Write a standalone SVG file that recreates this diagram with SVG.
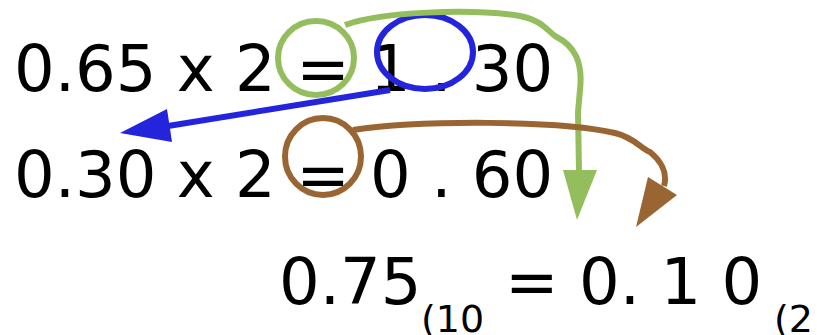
<svg xmlns="http://www.w3.org/2000/svg" width="817" height="335" viewBox="0 0 817 335">
<style>
  .t { font-family: "DejaVu Sans", "Liberation Sans", sans-serif; font-size: 64px; fill: #000; }
  .s { font-family: "DejaVu Sans", "Liberation Sans", sans-serif; font-size: 38px; fill: #000; }
  .ln { fill: none; stroke-width: 6; stroke-linecap: butt; stroke-linejoin: round; }
  .blue { stroke: #2424dc; }
  .green { stroke: #94be5e; }
  .brown { stroke: #996633; }
</style>
<rect width="817" height="335" fill="#fff"/>
<g id="row1"><text class="t" x="14" y="91">0.65 x 2 = 1 . 30</text></g>
<g id="row2"><text class="t" x="14" y="197">0.30 x 2 = 0 . 60</text></g>
<g id="row3">
  <text class="t" x="279" y="304">0.75</text>
  <text class="s" x="421" y="332">(10</text>
  <text class="t" x="505" y="304">= 0. 1 0</text>
  <text class="s" x="774" y="332">(2</text>
</g>
<g id="marks">
  <ellipse id="blue-mark" class="ln blue" cx="425" cy="52" rx="48" ry="37"/>
  <ellipse id="green-mark" class="ln green" cx="316" cy="58" rx="38" ry="37"/>
  <ellipse id="brown-mark" class="ln brown" cx="323" cy="156.5" rx="38" ry="38.5" stroke-width="6.5"/>
</g>
<g id="connectors">
  <line class="ln blue" x1="390" y1="90" x2="168" y2="126"/>
  <polygon fill="#2424dc" points="167,109 172,142 120,133"/>
  <path class="ln green" d="M345,25 C380,12 470,8 520,16 C540,20 545,28 555,36 C575,46 583,62 580,90 L578,112 L579,172"/>
  <polygon fill="#94be5e" points="563,170 597,170 577,220"/>
  <path class="ln brown" d="M353,130 C420,120 560,120 615,133 C635,138 640,148 650,152 C660,160 668,172 664,186"/>
  <polygon fill="#996633" points="648,177 677,195 636,227"/>
</g>
</svg>
